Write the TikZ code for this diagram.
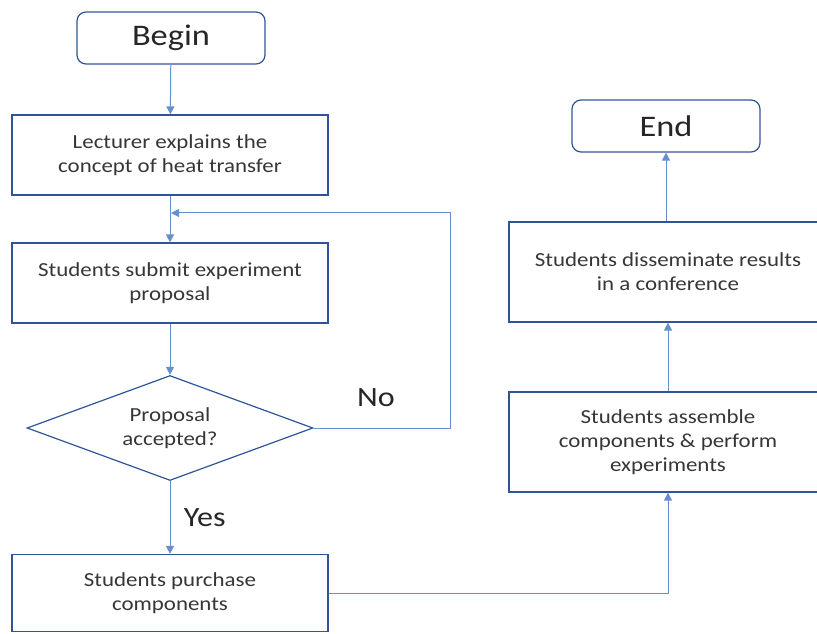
\documentclass[tikz,border=0pt]{standalone}
\usepackage{fontspec}
\setmainfont[FakeStretch=1.15]{Carlito}
\usepackage{tikz}
\usetikzlibrary{arrows.meta,positioning,shapes.geometric}
\definecolor{boxline}{HTML}{2F5597}
\definecolor{flowline}{HTML}{4472C4}
\definecolor{ink}{HTML}{363636}
\tikzset{
  termnode/.style={
    draw=boxline,
    rounded corners=9bp,
    line width=1.2bp,
    minimum width=188bp,
    minimum height=52bp,
    text=black!85,
    font=\fontsize{30}{34}\selectfont
  },
  stepnode/.style={
    draw=boxline,
    line width=1.2bp,
    align=center,
    minimum width=316bp,
    minimum height=80bp,
    inner sep=4bp,
    text=ink,
    font=\fontsize{20}{24}\selectfont
  },
  decisionnode/.style={
    draw=boxline,
    diamond,
    aspect=2.7,
    line width=1.2bp,
    align=center,
    minimum width=286bp,
    minimum height=105bp,
    inner sep=0pt,
    text=ink,
    font=\fontsize{20}{24}\selectfont
  },
  branchlabel/.style={text=black!85,font=\fontsize{28}{30}\selectfont},
  flowarrow/.style={-{Triangle[length=8bp,width=8bp]},line width=1bp,draw=flowline!80}
}
\begin{document}
\begin{tikzpicture}[x=1bp,y=-1bp]
  \useasboundingbox (0,0) rectangle (817,634);
  % left column
  \node[termnode] (begin) at (171,38) {Begin};
  \node[stepnode] (lecture) at (170,155) {Lecturer explains the\\concept of heat transfer};
  \node[stepnode] (submit) at (170,283) {Students submit experiment\\proposal};
  \node[decisionnode] (accept) at (170,428) {Proposal\\accepted?};
  \node[stepnode, minimum height=77bp] (purchase) at (170,593) {Students purchase\\components};
  % right column
  \node[stepnode, minimum width=318bp, minimum height=100bp] (assemble) at (668,442) {Students assemble\\components \& perform\\experiments};
  \node[stepnode, minimum width=318bp, minimum height=100bp] (share) at (668,272) {Students disseminate results\\in a conference};
  \node[termnode] (end) at (666,126) {End};
  \coordinate (rejoin) at (171,213);
  % connectors
  \draw[flowarrow] (begin) -- (lecture);
  \draw[flowarrow] (lecture) -- (submit);
  \draw[flowarrow] (submit) -- (accept);
  \draw[flowarrow] (accept) -- node[branchlabel, right=10bp] (yes) {Yes} (purchase);
  \draw[flowarrow] (accept.east) -- ++(137,0) |- (rejoin);
  \node[branchlabel] (no) at (376,398) {No};
  \draw[flowarrow] (purchase.east) -| (assemble.south);
  \draw[flowarrow] (assemble) -- (share);
  \draw[flowarrow] (share.north -| end) -- (end);
\end{tikzpicture}
\end{document}
